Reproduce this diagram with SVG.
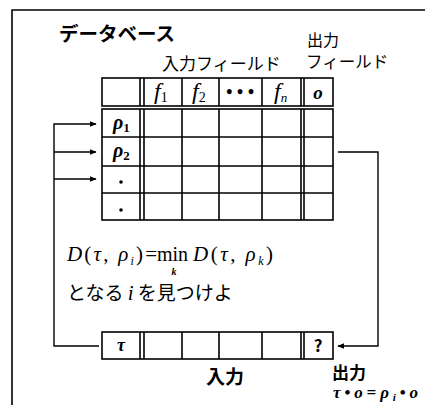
<svg xmlns="http://www.w3.org/2000/svg" width="425" height="405" viewBox="0 0 425 405">
<style>
.ln{fill:none;stroke:#000;stroke-width:1.6}
.cn{fill:none;stroke:#000;stroke-width:1.4}
.jp{font-family:"Noto Sans CJK JP","Noto Sans",sans-serif;fill:#000}
.jb{font-family:"Noto Sans CJK JP","Noto Sans",sans-serif;font-weight:bold;fill:#000}
.m{font-family:"Liberation Serif","DejaVu Serif",serif;font-style:italic;fill:#000}
.r{font-family:"Liberation Serif","DejaVu Serif",serif;fill:#000}
.mb{font-family:"Liberation Serif","DejaVu Serif",serif;font-style:italic;font-weight:bold;fill:#000}
</style>
<defs>
<marker id="ah" viewBox="0 0 10 10" refX="9" refY="5" markerWidth="7" markerHeight="7" markerUnits="userSpaceOnUse" orient="auto">
<path d="M0,1 L10,5 L0,9 Z" fill="#000"/>
</marker>
</defs>
<rect width="425" height="405" fill="#fff"/>
<g id="frame">
<path class="ln" d="M12,405 V10 H425"/>
</g>
<g id="labels">
<text class="jb" x="59" y="41" font-size="19.5">データベース</text>
<text class="jp" x="162" y="70" font-size="17">入力フィールド</text>
<text class="jp" x="307" y="46" font-size="16">出力</text>
<text class="jp" x="306" y="68" font-size="16.5">フィールド</text>
</g>
<g id="header">
<rect class="ln" x="102" y="78" width="231" height="28"/>
<path class="ln" d="M140,78 V106 M144,78 V106 M182,78 V106 M219,78 V106 M262,78 V106 M301,78 V106 M304,78 V106"/>
<text class="m" x="154" y="99" font-size="24">f<tspan font-size="14" font-style="normal" dy="3">1</tspan></text>
<text class="m" x="192" y="99" font-size="24">f<tspan font-size="14" font-style="normal" dy="3">2</tspan></text>
<text class="mb" x="240" y="98" font-size="18" text-anchor="middle">• • •</text>
<text class="m" x="274" y="99" font-size="24">f<tspan font-size="13" dy="3">n</tspan></text>
<text class="mb" x="318" y="99" font-size="19" text-anchor="middle">o</text>
</g>
<g id="database">
<rect class="ln" x="102" y="109" width="231" height="111"/>
<path class="ln" d="M102,137 H333 M102,166 H333 M102,193 H333 M140,109 V220 M144,109 V220 M182,109 V220 M219,109 V220 M262,109 V220 M301,109 V220 M304,109 V220"/>
<text class="mb" x="113" y="129" font-size="20">ρ<tspan font-size="13" font-style="normal" dy="3">1</tspan></text>
<text class="mb" x="113" y="157" font-size="20">ρ<tspan font-size="13" font-style="normal" dy="3">2</tspan></text>
<circle cx="121" cy="182" r="1.8" fill="#000"/>
<circle cx="121" cy="210" r="1.8" fill="#000"/>
</g>
<g id="condition">
<text class="m" x="67" y="261" font-size="21" textLength="90" lengthAdjust="spacing">D<tspan font-style="normal">(</tspan>τ<tspan font-style="normal">, </tspan>ρ<tspan font-size="12" dy="4">i</tspan><tspan font-style="normal" dy="-4">)=</tspan></text>
<text class="r" x="157" y="261" font-size="20">min</text>
<text class="m" x="193" y="261" font-size="21" textLength="80" lengthAdjust="spacing">D<tspan font-style="normal">(</tspan>τ<tspan font-style="normal">, </tspan>ρ<tspan font-size="12" dy="4">k</tspan><tspan font-style="normal" dy="-4">)</tspan></text>
<text class="mb" x="174" y="275" font-size="10" text-anchor="middle">k</text>
<text class="jp" x="67" y="300" font-size="19">となる <tspan class="m" font-size="21">i</tspan> を見つけよ</text>
</g>
<g id="input">
<rect class="ln" x="102" y="332" width="231" height="27"/>
<path class="ln" d="M140,332 V359 M144,332 V359 M182,332 V359 M219,332 V359 M262,332 V359 M301,332 V359 M304,332 V359"/>
<text class="mb" x="121" y="351" font-size="18" text-anchor="middle">τ</text>
<text class="jb" x="318" y="352" font-size="17" text-anchor="middle">?</text>
<text class="jb" x="206" y="384" font-size="19">入力</text>
</g>
<g id="output">
<text class="jb" x="332" y="379" font-size="17">出力</text>
<text class="mb" x="333" y="398" font-size="17" textLength="85" lengthAdjust="spacing">τ<tspan font-style="normal">•</tspan>o=ρ<tspan font-size="11" dy="3">i</tspan><tspan font-style="normal" dy="-3">•</tspan>o</text>
</g>
<g id="connectors">
<path class="cn" d="M99,346 H54 V124 H96" marker-end="url(#ah)"/>
<path class="cn" d="M54,152 H96" marker-end="url(#ah)"/>
<path class="cn" d="M54,179 H96" marker-end="url(#ah)"/>
<path class="cn" d="M338,152 H378 V346 H338" marker-end="url(#ah)"/>
</g>
</svg>
